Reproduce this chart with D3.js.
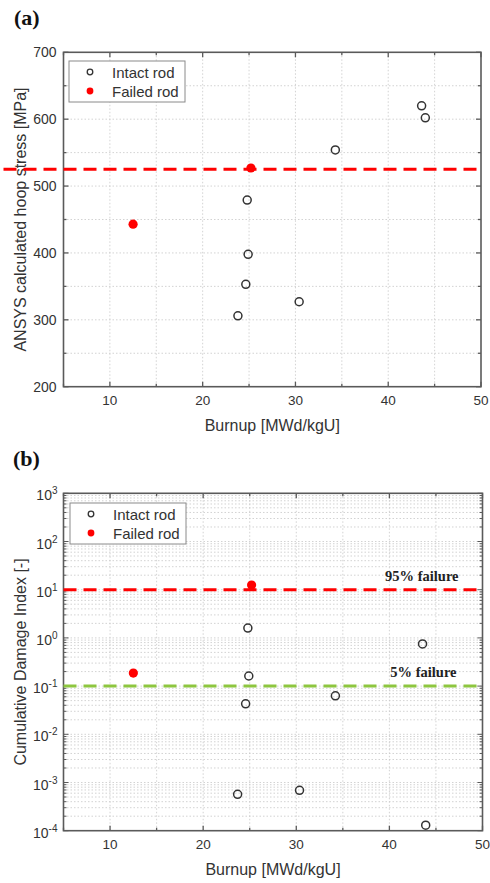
<!DOCTYPE html>
<html><head><meta charset="utf-8">
<script src="https://cdn.jsdelivr.net/npm/d3@7"></script>
<style>
html,body{margin:0;padding:0;background:#fff;}
svg{display:block;font-family:"Liberation Sans",Arial,sans-serif;}
</style></head>
<body>
<svg id="chart" width="490" height="883"></svg>
<script>
// ---------- data ----------
const xTicks = [10, 20, 30, 40, 50];
// panel (a)
const burnupIntactA = [23.8, 24.65, 24.8, 24.9, 30.4, 34.3, 43.6, 44.0];
const stressIntact  = [306, 353, 479, 398, 327, 554, 620, 602];
const burnupFailedA = [12.5, 25.2];
const stressFailed  = [443, 527];
const stressLimit   = 525;
const stressTicks   = [200, 300, 400, 500, 600, 700];
// panel (b)
const burnupIntactB = [23.7, 24.56, 24.8, 24.9, 30.35, 34.2, 43.56, 43.9];
const cdiIntact     = [5.7e-4, 0.043, 1.6, 0.162, 6.9e-4, 0.063, 0.75, 1.3e-4];
const burnupFailedB = [12.5, 25.2];
const cdiFailed     = [0.186, 12.5];
const cdi95 = 10, cdi5 = 0.1;
const cdiExponents = [-4, -3, -2, -1, 0, 1, 2, 3];

const svg = d3.select("#chart");
const frameColor = "#5a5a5a", textColor = "#333", gridColor = "#c8c8c8";

function frame(g, x, y) {
  const [x0, x1] = x.range(), [y0, y1] = y.range();
  g.append("rect").attr("x", x0).attr("y", Math.min(y0, y1))
    .attr("width", x1 - x0).attr("height", Math.abs(y0 - y1))
    .attr("fill", "none").attr("stroke", frameColor).attr("stroke-width", 1.6);
}

function xAxisParts(g, x, y) {
  const [yb, yt] = y.range();
  const minors = d3.range(5, 51, 5);
  // vertical grid
  g.append("g").selectAll("line").data(minors.filter(v => v > 5 && v < 50)).join("line")
    .attr("x1", d => x(d)).attr("x2", d => x(d)).attr("y1", yt).attr("y2", yb)
    .attr("stroke", gridColor).attr("stroke-width", 0.8).attr("stroke-dasharray", "1.5,2");
  // ticks bottom & top, inward
  minors.forEach(v => {
    const len = (v % 10 === 0) ? 5 : 3;
    g.append("line").attr("x1", x(v)).attr("x2", x(v)).attr("y1", yb).attr("y2", yb - len)
      .attr("stroke", frameColor).attr("stroke-width", 1.3);
    g.append("line").attr("x1", x(v)).attr("x2", x(v)).attr("y1", yt).attr("y2", yt + len)
      .attr("stroke", frameColor).attr("stroke-width", 1.3);
  });
  g.append("g").selectAll("text").data(xTicks).join("text")
    .attr("x", d => x(d)).attr("y", yb + 18).attr("text-anchor", "middle")
    .attr("font-size", 13.5).attr("fill", textColor).text(d => d);
  g.append("text").attr("x", (x.range()[0] + x.range()[1]) / 2).attr("y", yb + 44)
    .attr("text-anchor", "middle").attr("font-size", 16).attr("fill", textColor)
    .text("Burnup [MWd/kgU]");
}

function legend(g, x0, y0) {
  g.append("rect").attr("x", x0).attr("y", y0).attr("width", 116).attr("height", 41)
    .attr("fill", "#fff").attr("stroke", "#8a8a8a").attr("stroke-width", 1);
  g.append("circle").attr("cx", x0 + 21).attr("cy", y0 + 11).attr("r", 2.8)
    .attr("fill", "none").attr("stroke", "#333").attr("stroke-width", 1.3);
  g.append("circle").attr("cx", x0 + 21).attr("cy", y0 + 30).attr("r", 3.4).attr("fill", "#ff0000");
  g.append("text").attr("x", x0 + 43).attr("y", y0 + 16.5).attr("font-size", 15).attr("fill", textColor).text("Intact rod");
  g.append("text").attr("x", x0 + 43).attr("y", y0 + 35.5).attr("font-size", 15).attr("fill", textColor).text("Failed rod");
}

// ================= panel (a) =================
{
  const g = svg.append("g");
  const x = d3.scaleLinear().domain([5, 50]).range([63.5, 481]);
  const y = d3.scaleLinear().domain([200, 700]).range([386.7, 52.3]);

  g.append("text").attr("x", 14).attr("y", 25).attr("font-family", "'Liberation Serif','Times New Roman',serif")
    .attr("font-weight", "bold").attr("font-size", 22).attr("fill", "#111").text("(a)");

  // horizontal grid
  g.append("g").selectAll("line").data(d3.range(250, 700, 50)).join("line")
    .attr("x1", x(5)).attr("x2", x(50)).attr("y1", d => y(d)).attr("y2", d => y(d))
    .attr("stroke", gridColor).attr("stroke-width", 0.8).attr("stroke-dasharray", "1.5,2");
  xAxisParts(g, x, y);
  d3.range(200, 701, 50).forEach(v => {
    const len = (v % 100 === 0) ? 5 : 3;
    g.append("line").attr("x1", x(5)).attr("x2", x(5) + len).attr("y1", y(v)).attr("y2", y(v))
      .attr("stroke", frameColor).attr("stroke-width", 1.3);
    g.append("line").attr("x1", x(50)).attr("x2", x(50) - len).attr("y1", y(v)).attr("y2", y(v))
      .attr("stroke", frameColor).attr("stroke-width", 1.3);
  });
  g.append("g").selectAll("text").data(stressTicks).join("text")
    .attr("x", x(5) - 7).attr("y", d => y(d) + 5).attr("text-anchor", "end")
    .attr("font-size", 14).attr("fill", textColor).text(d => d);
  g.append("text").attr("transform", `translate(26,${(y(200) + y(700)) / 2}) rotate(-90)`)
    .attr("text-anchor", "middle").attr("font-size", 16).attr("fill", textColor)
    .text("ANSYS calculated hoop stress [MPa]");
  frame(g, x, y);

  // limit line (extends left beyond the axis, as in the original)
  g.append("line").attr("x1", x.range()[0] - 60).attr("x2", x(50)).attr("y1", y(stressLimit)).attr("y2", y(stressLimit))
    .attr("stroke", "#ff0000").attr("stroke-width", 3).attr("stroke-dasharray", "13,7");

  g.append("g").selectAll("circle").data(burnupIntactA.map((b, i) => [b, stressIntact[i]])).join("circle")
    .attr("cx", d => x(d[0])).attr("cy", d => y(d[1])).attr("r", 4)
    .attr("fill", "none").attr("stroke", "#333").attr("stroke-width", 1.5);
  g.append("g").selectAll("circle").data(burnupFailedA.map((b, i) => [b, stressFailed[i]])).join("circle")
    .attr("cx", d => x(d[0])).attr("cy", d => y(d[1])).attr("r", 4.6).attr("fill", "#ff0000");

  legend(g, 69, 61);
}

// ================= panel (b) =================
{
  const g = svg.append("g");
  const x = d3.scaleLinear().domain([5, 50]).range([63.5, 482.5]);
  const y = d3.scaleLog().domain([1e-4, 1e3]).range([830.7, 493.3]);

  g.append("text").attr("x", 13).attr("y", 466).attr("font-family", "'Liberation Serif','Times New Roman',serif")
    .attr("font-weight", "bold").attr("font-size", 22).attr("fill", "#111").text("(b)");

  // log grid: decades and minors
  const logVals = [];
  for (let e = -4; e < 3; e++) for (let m = 1; m <= 9; m++) logVals.push(m * Math.pow(10, e));
  logVals.push(1e3);
  g.append("g").selectAll("line").data(logVals.filter(v => v > 1.0001e-4 && v < 999)).join("line")
    .attr("x1", x(5)).attr("x2", x(50)).attr("y1", d => y(d)).attr("y2", d => y(d))
    .attr("stroke", gridColor).attr("stroke-width", 0.8).attr("stroke-dasharray", "1.5,2");
  xAxisParts(g, x, y);
  logVals.forEach(v => {
    const isMajor = Math.abs(Math.log10(v) - Math.round(Math.log10(v))) < 1e-9;
    const len = isMajor ? 5 : 3;
    g.append("line").attr("x1", x(5)).attr("x2", x(5) + len).attr("y1", y(v)).attr("y2", y(v))
      .attr("stroke", frameColor).attr("stroke-width", 1);
    g.append("line").attr("x1", x(50)).attr("x2", x(50) - len).attr("y1", y(v)).attr("y2", y(v))
      .attr("stroke", frameColor).attr("stroke-width", 1);
  });
  const lab = g.append("g").selectAll("text").data(cdiExponents).join("text")
    .attr("x", x(5) - 6).attr("y", d => y(Math.pow(10, d)) + 7).attr("text-anchor", "end")
    .attr("font-size", 14).attr("fill", textColor);
  lab.append("tspan").text("10");
  lab.append("tspan").attr("dy", -6).attr("font-size", 10).text(d => d);
  g.append("text").attr("transform", `translate(26,${(y(1e-4) + y(1e3)) / 2}) rotate(-90)`)
    .attr("text-anchor", "middle").attr("font-size", 16).attr("fill", textColor)
    .text("Cumulative Damage Index [-]");
  frame(g, x, y);

  g.append("line").attr("x1", x(5)).attr("x2", x(50)).attr("y1", y(cdi95)).attr("y2", y(cdi95))
    .attr("stroke", "#ff0000").attr("stroke-width", 3).attr("stroke-dasharray", "13,7");
  g.append("line").attr("x1", x(5)).attr("x2", x(50)).attr("y1", y(cdi5)).attr("y2", y(cdi5))
    .attr("stroke", "#8dc63f").attr("stroke-width", 3).attr("stroke-dasharray", "13,7");

  const serif = "'Liberation Serif','Times New Roman',serif";
  g.append("text").attr("x", x(50) - 24).attr("y", y(cdi95) - 9).attr("text-anchor", "end")
    .attr("font-family", serif).attr("font-weight", "bold").attr("font-size", 14.5).attr("fill", "#222").text("95% failure");
  g.append("text").attr("x", x(50) - 26).attr("y", y(cdi5) - 9).attr("text-anchor", "end")
    .attr("font-family", serif).attr("font-weight", "bold").attr("font-size", 14.5).attr("fill", "#222").text("5% failure");

  g.append("g").selectAll("circle").data(burnupIntactB.map((b, i) => [b, cdiIntact[i]])).join("circle")
    .attr("cx", d => x(d[0])).attr("cy", d => y(d[1])).attr("r", 4)
    .attr("fill", "none").attr("stroke", "#333").attr("stroke-width", 1.5);
  g.append("g").selectAll("circle").data(burnupFailedB.map((b, i) => [b, cdiFailed[i]])).join("circle")
    .attr("cx", d => x(d[0])).attr("cy", d => y(d[1])).attr("r", 4.6).attr("fill", "#ff0000");

  legend(g, 70, 503);
}
</script>
</body></html>
